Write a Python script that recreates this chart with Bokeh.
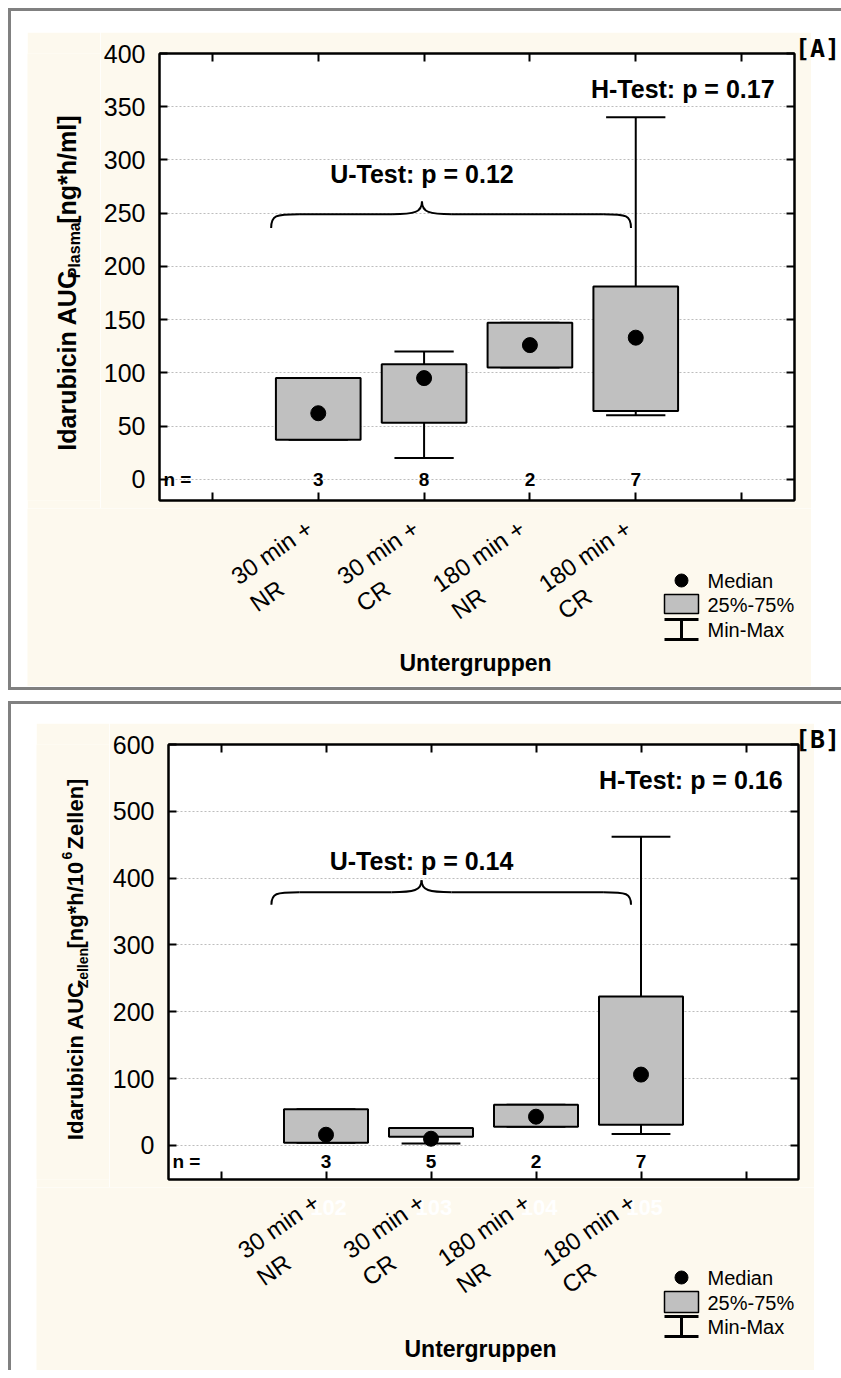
import math
from bokeh.plotting import figure
from bokeh.models import Range1d, FixedTicker, LinearAxis, Div
from bokeh.layouts import column, row
from bokeh.core.properties import value
from bokeh.embed import file_html
from bokeh.resources import INLINE

# ---------------- data ----------------
group_line1 = ["30 min +", "30 min +", "180 min +", "180 min +"]
group_line2 = ["NR", "CR", "NR", "CR"]
group_pos = [2, 3, 4, 5]
x_ticks = [1, 2, 3, 4, 5, 6]
hidden_codes_b = ["102", "103", "104", "105"]

a_min = [37, 20, 105, 60]
a_q1 = [37, 53, 105, 64]
a_median = [62, 95, 126, 133]
a_q3 = [95, 108, 147, 181]
a_max = [95, 120, 147, 340]
a_n = ["3", "8", "2", "7"]
a_y_ticks = [0, 50, 100, 150, 200, 250, 300, 350, 400]
a_htest = "H-Test: p = 0.17"
a_utest = "U-Test: p = 0.12"

b_min = [4, 3, 28, 17]
b_q1 = [4, 13, 28, 31]
b_median = [16, 10, 43, 106]
b_q3 = [54, 26, 61, 223]
b_max = [54, 26, 61, 462]
b_n = ["3", "5", "2", "7"]
b_y_ticks = [0, 100, 200, 300, 400, 500, 600]
b_htest = "H-Test: p = 0.16"
b_utest = "U-Test: p = 0.14"

legend_labels = ["Median", "25%-75%", "Min-Max"]
x_title = "Untergruppen"

# ---------------- style ----------------
BEIGE = "#fdf9ee"
FRAME_GRAY = "#808080"
BOX_FILL = "#c0c0c0"
FONT = value("Liberation Sans")
ANG = math.radians(35)
COS, SIN = math.cos(ANG), math.sin(ANG)
LINE1_EM = {"30 min +": 3.863, "180 min +": 4.419}
TICK_FS = 24


def style_axis(ax, labels=False):
    ax.axis_line_width = 2
    ax.axis_line_color = "black"
    ax.major_tick_in = 8
    ax.major_tick_out = 0
    ax.major_tick_line_width = 2
    ax.major_tick_line_color = "black"
    ax.minor_tick_line_color = None
    ax.axis_label = None
    if labels:
        ax.major_label_text_font = "Liberation Sans"
        ax.major_label_text_font_size = "25px"
        ax.major_label_text_color = "black"
        ax.major_label_standoff = 14
    else:
        # tick marks only: labels are not painted at all
        ax.major_label_text_font_size = "1px"
        ax.major_label_text_color = None
        ax.major_label_standoff = 0


def blank_fig(w, h, xr, yr):
    f = figure(width=w, height=h, x_range=xr, y_range=yr, tools="",
               x_axis_location=None, y_axis_location=None,
               toolbar_location=None, output_backend="svg",
               min_border_left=0, min_border_right=0, min_border_top=0, min_border_bottom=0,
               background_fill_color=BEIGE, border_fill_color=BEIGE, outline_line_color=None)
    f.grid.visible = False
    return f


def build_panel(g, mins, q1s, meds, q3s, maxs, ns, yticks, htest, utest, tag):
    bx0, bx1, by0, by1 = g["beige"]
    fl, fr, ft, fb = g["frame"]
    ymin, ymax = g["yrange"]
    ppx = (fr - fl) / 6.0
    ppy = (fb - ft) / float(ymax - ymin)
    ylab_w = 73
    main_x0 = bx0 + ylab_w
    main_w = bx1 - main_x0
    main_h = fb - by0 + 8

    # ---------- main plot ----------
    p = figure(width=main_w, height=main_h, x_range=Range1d(0.5, 6.5),
               y_range=Range1d(ymin, ymax), tools="", toolbar_location=None,
               output_backend="svg",
               min_border_left=fl - main_x0, min_border_right=bx1 - fr,
               min_border_top=ft - by0, min_border_bottom=8,
               background_fill_color="white", border_fill_color=BEIGE,
               outline_line_color="black", outline_line_width=2)
    p.xaxis.ticker = FixedTicker(ticks=x_ticks)
    p.yaxis.ticker = FixedTicker(ticks=yticks)
    for ax in p.xaxis:
        style_axis(ax, labels=False)
    for ax in p.yaxis:
        style_axis(ax, labels=True)
    top_ax = LinearAxis(ticker=FixedTicker(ticks=x_ticks))
    style_axis(top_ax)
    right_ax = LinearAxis(ticker=FixedTicker(ticks=yticks))
    style_axis(right_ax)
    p.add_layout(top_ax, "above")
    p.add_layout(right_ax, "right")
    p.xgrid.visible = False
    p.ygrid.grid_line_color = "#bdbdbd"
    p.ygrid.grid_line_dash = "2 2"
    p.ygrid.grid_line_width = 1

    half_cap = 0.28
    p.segment(x0=group_pos, y0=q3s, x1=group_pos, y1=maxs, line_color="black", line_width=2)
    p.segment(x0=group_pos, y0=q1s, x1=group_pos, y1=mins, line_color="black", line_width=2)
    p.segment(x0=[c - half_cap for c in group_pos], y0=maxs,
              x1=[c + half_cap for c in group_pos], y1=maxs, line_color="black", line_width=2)
    p.segment(x0=[c - half_cap for c in group_pos], y0=mins,
              x1=[c + half_cap for c in group_pos], y1=mins, line_color="black", line_width=2)
    p.vbar(x=group_pos, width=0.8, bottom=q1s, top=q3s, fill_color=BOX_FILL,
           line_color="black", line_width=2)
    p.scatter(x=group_pos, y=meds, size=15, marker="circle", fill_color="black", line_color="black")

    # n row
    ny = g["n_y"]
    p.text(x=[0.5 + 4 / ppx], y=[ny], text=["n ="], text_font=FONT, text_font_style="bold",
           text_font_size="19px", text_align="left", text_baseline="middle", text_color="black")
    p.text(x=group_pos, y=[ny] * 4, text=ns, text_font=FONT, text_font_style="bold",
           text_font_size="19px", text_align="center", text_baseline="middle", text_color="black")

    # H-Test
    p.text(x=[6.5 - g["h_dx"] / ppx], y=[ymax - 35 / ppy], text=[htest], text_font=FONT,
           text_font_style="bold", text_font_size="25px", text_align="right",
           text_baseline="middle", text_color="black")

    # U-Test + brace
    br = g["brace"]
    xl, xr, xt = br["x_left"], br["x_right"], br["x_tip"]
    ye, yf, yt = br["y_end"], br["y_flat"], br["y_tip"]
    dx = 28 / ppx
    dt = 30 / ppx
    p.bezier(x0=[xl, xt - dt, xt, xr - dx],
             y0=[ye, yf, yt, yf],
             x1=[xl + dx, xt, xt + dt, xr],
             y1=[yf, yt, yf, ye],
             cx0=[xl, xt - dt * 0.25, xt, xr - dx * 0.15],
             cy0=[ye + (yf - ye) * 0.9, yf, yf + (yt - yf) * 0.15, yf],
             cx1=[xl + dx * 0.15, xt, xt + dt * 0.25, xr],
             cy1=[yf, yf + (yt - yf) * 0.15, yf, ye + (yf - ye) * 0.9],
             line_color="black", line_width=2)
    p.segment(x0=[xl + dx, xt + dt], y0=[yf, yf], x1=[xt - dt, xr - dx], y1=[yf, yf],
              line_color="black", line_width=2)
    p.text(x=[xt], y=[br["text_y"]], text=[utest], text_font=FONT,
           text_font_style="bold", text_font_size="25px", text_align="center",
           text_baseline="middle", text_color="black")

    # ---------- y-axis title (with subscript / superscript) ----------
    yl = blank_fig(ylab_w, main_h, Range1d(bx0, main_x0), Range1d(-(by0 + main_h), -by0))
    pieces = g["ylab_pieces"]
    total = sum(em * fs + gap for (_, em, fs, _, gap) in pieces)
    start = g["ylab_center"] + total / 2.0
    for (txt, em, fs, shift, gap) in pieces:
        yl.text(x=[g["ylab_base"] + shift], y=[-start], text=[txt], angle=math.pi / 2,
                text_font=FONT, text_font_style="bold", text_font_size=f"{fs}px",
                text_align="left", text_baseline="alphabetic", text_color="black")
        start -= em * fs + gap

    # ---------- bottom strip: tick labels, legend, x title ----------
    bot_top = by0 + main_h
    bot = blank_fig(bx1 - bx0, by1 - bot_top,
                    Range1d(0.5 - (fl - bx0) / ppx, 6.5 + (bx1 - fr) / ppx),
                    Range1d(-by1, -bot_top))

    def X(px):
        return 0.5 + (px - fl) / ppx

    py1 = fb + g["lab_dy"]
    x1s, x2s, y2s = [], [], []
    for c, l1 in zip(group_pos, group_line1):
        L = LINE1_EM[l1] * TICK_FS
        x1s.append(c + g["lab_dx"] / ppx)
        x2s.append(c + (g["lab_dx"] - COS * L + SIN * 33) / ppx)
        y2s.append(-(py1 + SIN * L + COS * 33))
    if g.get("hidden"):
        bot.text(x=[c + 4 / ppx for c in group_pos], y=[-(fb + 28)] * 4, text=hidden_codes_b,
                 text_font=FONT, text_font_style="bold", text_font_size="22px",
                 text_align="center", text_baseline="middle", text_color="white")
    bot.text(x=x1s, y=[-py1] * 4, text=group_line1, angle=ANG, text_font=FONT,
             text_font_size=f"{TICK_FS}px", text_align="right", text_baseline="alphabetic",
             text_color="black")
    bot.text(x=x2s, y=y2s, text=group_line2, angle=ANG, text_font=FONT,
             text_font_size=f"{TICK_FS}px", text_align="left", text_baseline="alphabetic",
             text_color="black")

    lg = g["legend"]
    bot.scatter(x=[X(lg["sym_cx"])], y=[-lg["rows"][0]], size=13, marker="circle",
                fill_color="black", line_color="black")
    bot.quad(left=[X(lg["sym_l"])], right=[X(lg["sym_r"])], bottom=[-lg["box"][1]],
             top=[-lg["box"][0]], fill_color=BOX_FILL, line_color="black", line_width=1.5)
    b1, b2 = lg["bars"]
    bot.segment(x0=[X(lg["sym_l"]), X(lg["sym_l"]), X(lg["sym_cx"])],
                y0=[-b1, -b2, -b1],
                x1=[X(lg["sym_r"]), X(lg["sym_r"]), X(lg["sym_cx"])],
                y1=[-b1, -b2, -b2], line_color="black", line_width=3)
    bot.text(x=[X(lg["text_x"])] * 3, y=[-r for r in lg["rows"]], text=legend_labels,
             text_font=FONT, text_font_size="20px", text_align="left",
             text_baseline="middle", text_color="black")
    bot.text(x=[X(g["title_x"])], y=[-g["title_y"]], text=[x_title], text_font=FONT,
             text_font_style="bold", text_font_size="23px", text_align="center",
             text_baseline="middle", text_color="black")

    beige_block = column(row(yl, p), bot)
    tag_div = Div(text=tag, width=841 - 8 - 3 - g["pad_left"] - (bx1 - bx0), height=36,
                  margin=(0, 0, 0, 0),
                  styles={"position": "relative", "left": f"-{g['tag_shift']}px", "top": "0px",
                          "font-family": "DejaVu Sans Mono", "font-weight": "bold",
                          "font-size": "25px", "line-height": "34px", "white-space": "nowrap",
                          "overflow": "visible", "color": "black"})
    content = row(beige_block, tag_div)
    styles = {"border-top": f"3px solid {FRAME_GRAY}", "border-left": f"3px solid {FRAME_GRAY}",
              "padding-top": f"{g['pad_top']}px", "padding-left": f"{g['pad_left']}px",
              "background-color": "white"}
    if g.get("bottom_border"):
        styles["border-bottom"] = f"3px solid {FRAME_GRAY}"
        styles["padding-bottom"] = "1px"
    return column(content, styles=styles)


# page-pixel layout of both panels (positions only, no data)
geom_a = dict(beige=(27, 811, 32, 686), frame=(157, 794, 53, 500), yrange=(-20, 400),
              n_y=0, h_dx=20,
              brace=dict(x_left=1.555, x_right=4.955, x_tip=2.98, y_end=236, y_flat=249,
                         y_tip=261, text_y=287),
              ylab_base=66, ylab_center=276.5,
              ylab_pieces=[("Idarubicin AUC", 7.223, 25, 0, 3), ("Plasma", 3.502, 16, 8, 2),
                           (" [ng*h/ml]", 4.611, 25, 0, 0)],
              lab_dx=-7, lab_dy=25,
              legend=dict(sym_cx=681, sym_l=664, sym_r=698, rows=[580, 604, 629],
                          box=(594, 613), bars=(619, 639), text_x=707),
              title_x=475, title_y=662, pad_top=21, pad_left=16, tag_shift=16,
              bottom_border=True)

geom_b = dict(beige=(36, 814, 723, 1370), frame=(166, 798, 744, 1179), yrange=(-51, 600),
              n_y=-24, h_dx=16,
              brace=dict(x_left=1.48, x_right=4.905, x_tip=2.91, y_end=360, y_flat=379,
                         y_tip=397, text_y=425),
              ylab_base=75, ylab_center=951.5,
              ylab_pieces=[("Idarubicin AUC", 7.223, 22, 0, 3), ("Zellen", 2.890, 14, 7, 2),
                           (" [ng*h/10", 4.223, 22, 0, 2), ("6", 0.556, 14, -9, 3),
                           (" Zellen]", 3.501, 22, 0, 0)],
              lab_dx=-8, lab_dy=20,
              legend=dict(sym_cx=681, sym_l=664, sym_r=698, rows=[1277, 1302, 1326],
                          box=(1291, 1312), bars=(1316, 1336), text_x=707),
              title_x=480, title_y=1348, pad_top=19, pad_left=25, tag_shift=19,
              hidden=True, bottom_border=False)

panel_a = build_panel(geom_a, a_min, a_q1, a_median, a_q3, a_max, a_n, a_y_ticks,
                      a_htest, a_utest, "[A]")
panel_b = build_panel(geom_b, b_min, b_q1, b_median, b_q3, b_max, b_n, b_y_ticks,
                      b_htest, b_utest, "[B]")

layout = column(panel_a, panel_b, spacing=11,
                styles={"padding-top": "8px", "padding-left": "8px"})

with open("out.html", "w") as fh:
    fh.write(file_html(layout, INLINE, title="Idarubicin AUC"))
